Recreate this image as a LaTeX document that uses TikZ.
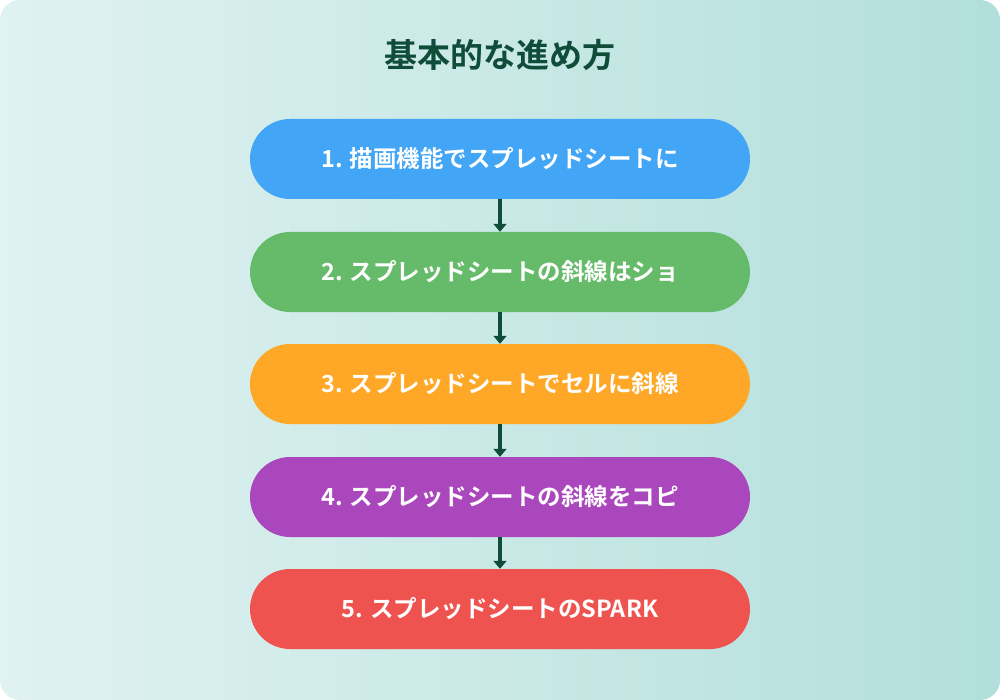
\documentclass[tikz,border=0pt]{standalone}
\usepackage{fontspec}
\setmainfont{Noto Sans CJK JP}[BoldFont={Noto Sans CJK JP Bold}]
\usetikzlibrary{arrows.meta}
\definecolor{c1}{HTML}{42A5F5}\definecolor{c2}{HTML}{66BB6A}\definecolor{c3}{HTML}{FFA726}
\definecolor{c4}{HTML}{AB47BC}\definecolor{c5}{HTML}{EF5350}
\definecolor{dk}{HTML}{0F4D3A}\definecolor{bgA}{HTML}{E0F2F1}\definecolor{bgB}{HTML}{B2DFDB}
\begin{document}
\begin{tikzpicture}[x=1pt,y=-1pt,
 pill/.style={rounded corners=40pt,minimum width=500pt,minimum height=80pt,text=white,font=\bfseries\fontsize{23.5}{28}\selectfont,inner sep=0pt},
 arr/.style={draw=dk,line width=3.5pt,-{Triangle[length=8pt,width=13pt]}}]
\useasboundingbox (0,0) rectangle (1000,700);
\shade[left color=bgA,right color=bgB,rounded corners=20pt] (0,0) rectangle (1000,700);
\node[text=dk,font=\bfseries\fontsize{33}{38}\selectfont] (t) at (500,55) {基本的な進め方};
\node[pill,fill=c1] (s1) at (500,159) {1. 描画機能でスプレッドシートに};
\node[pill,fill=c2] (s2) at (500,272) {2. スプレッドシートの斜線はショ};
\node[pill,fill=c3] (s3) at (500,384) {3. スプレッドシートでセルに斜線};
\node[pill,fill=c4] (s4) at (500,497) {4. スプレッドシートの斜線をコピ};
\node[pill,fill=c5] (s5) at (500,609) {5. スプレッドシートのSPARK};
\draw[arr] (s1) -- (s2);
\draw[arr] (s2) -- (s3);
\draw[arr] (s3) -- (s4);
\draw[arr] (s4) -- (s5);
\end{tikzpicture}
\end{document}
